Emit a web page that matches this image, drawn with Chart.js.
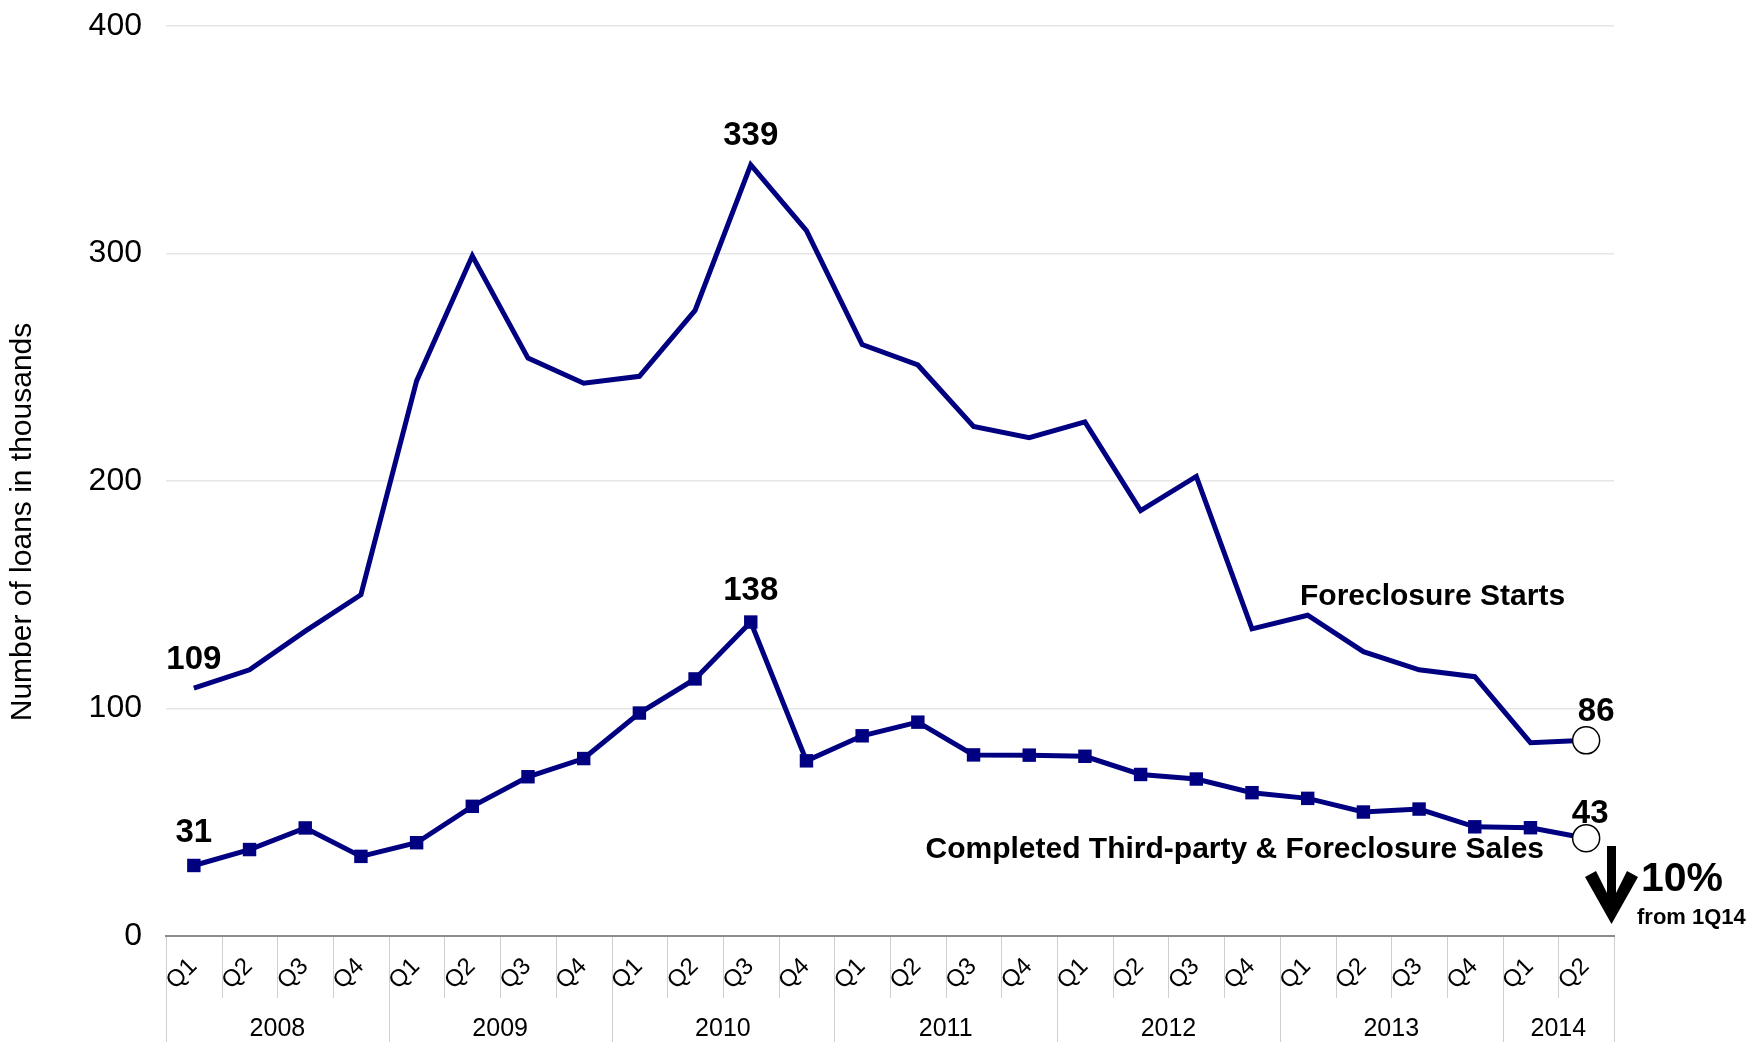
<!DOCTYPE html>
<html>
<head>
<meta charset="utf-8">
<script src="https://cdn.jsdelivr.net/npm/chart.js@4.4.1/dist/chart.umd.min.js"></script>
<style>
  html, body { margin: 0; padding: 0; background: #ffffff; }
  canvas { display: block; }
</style>
</head>
<body>
<canvas id="chart" width="1752" height="1042"></canvas>
<script>
// ---- data -------------------------------------------------------------
const years = ['2008', '2009', '2010', '2011', '2012', '2013', '2014'];
const quartersPerYear = [4, 4, 4, 4, 4, 4, 2];
const quarterNames = ['Q1', 'Q2', 'Q3', 'Q4'];

// Number of loans, thousands
const foreclosureStarts = [109, 117, 134, 150, 244, 299, 254, 243, 246, 275, 339, 310,
                           260, 251, 224, 219, 226, 187, 202, 135, 141, 125, 117, 114, 85, 86];
const completedSales    = [31, 38, 47.5, 35, 41, 57, 70, 78, 98, 113, 138, 77,
                           88, 94, 79.6, 79.5, 79, 71, 69, 63, 60.5, 54.5, 55.8, 48, 47.6, 43];

const yTickValues = [0, 100, 200, 300, 400];

// labelled points: [index, text]
const startsLabels = [[0, '109'], [10, '339'], [25, '86']];
const salesLabels  = [[0, '31'], [10, '138'], [25, '43']];

const seriesNames = ['Foreclosure Starts', 'Completed Third-party & Foreclosure Sales'];
const changeText = ['10%', 'from 1Q14'];
const yTitle = 'Number of loans in thousands';

// ---- derived ----------------------------------------------------------
const categories = [];
years.forEach((y, yi) => {
  for (let q = 0; q < quartersPerYear[yi]; q++) {
    categories.push(quarterNames[q] + ' ' + y);
  }
});
const lastIdx = categories.length - 1;

const FONT = '"Liberation Sans", Arial, Helvetica, sans-serif';
const NAVY = '#000080';
Chart.defaults.font.family = FONT;

// ---- custom drawing: category axis, labels, annotations ------------------
const decorations = {
  id: 'decorations',
  afterDraw(chart) {
    const ctx = chart.ctx;
    const area = chart.chartArea;
    const xs = chart.scales.x;
    const n = categories.length;
    const edge = i => i === 0 ? area.left : (i === n ? area.right
                  : (xs.getPixelForValue(i - 1) + xs.getPixelForValue(i)) / 2);

    ctx.save();
    // quarter dividers below the axis
    ctx.strokeStyle = '#cfcfcf';
    ctx.lineWidth = 1;
    const yearStarts = [0];
    quartersPerYear.forEach(q => yearStarts.push(yearStarts[yearStarts.length - 1] + q));
    for (let i = 0; i <= n; i++) {
      const x = Math.round(edge(i)) + 0.5;
      const isYear = yearStarts.includes(i);
      ctx.beginPath();
      ctx.moveTo(x, area.bottom + 1);
      ctx.lineTo(x, isYear ? chart.height : area.bottom + 62);
      ctx.stroke();
    }

    // quarter labels (rotated)
    ctx.fillStyle = '#000';
    ctx.font = '24px ' + FONT;
    ctx.textAlign = 'center';
    ctx.textBaseline = 'middle';
    for (let i = 0; i < n; i++) {
      const x = xs.getPixelForValue(i);
      ctx.save();
      ctx.translate(x - 12, area.bottom + 38);
      ctx.rotate(-Math.PI / 4);
      ctx.fillText(categories[i].split(' ')[0], 0, 0);
      ctx.restore();
    }

    // year labels
    ctx.font = '25px ' + FONT;
    years.forEach((y, yi) => {
      const cx = (edge(yearStarts[yi]) + edge(yearStarts[yi + 1])) / 2;
      ctx.fillText(y, cx, area.bottom + 93);
    });

    // y axis title
    ctx.save();
    ctx.translate(23, (area.top + area.bottom) / 2 + 41);
    ctx.rotate(-Math.PI / 2);
    ctx.font = '30px ' + FONT;
    ctx.fillText(yTitle, 0, 0);
    ctx.restore();

    // value labels
    ctx.font = 'bold 33px ' + FONT;
    const m0 = chart.getDatasetMeta(0).data;
    const m1 = chart.getDatasetMeta(1).data;
    const labelOffsets = { 0: [0, -28], 10: [0, -29], 25: [10, -28] };
    startsLabels.forEach(([i, t]) => {
      const o = labelOffsets[i];
      ctx.fillText(t, m0[i].x + o[0], m0[i].y + o[1]);
    });
    const salesOffsets = { 0: [0, -33], 10: [0, -31], 25: [4, -24] };
    salesLabels.forEach(([i, t]) => {
      const o = salesOffsets[i];
      ctx.fillText(t, m1[i].x + o[0], m1[i].y + o[1]);
    });

    // series names
    ctx.font = 'bold 30px ' + FONT;
    ctx.textAlign = 'left';
    ctx.fillText(seriesNames[0], 1300, 597);
    ctx.textAlign = 'right';
    ctx.fillText(seriesNames[1], 1544, 850);

    // down arrow
    ctx.fillStyle = '#000';
    ctx.beginPath();
    ctx.moveTo(1607, 846);
    ctx.lineTo(1616, 846);
    ctx.lineTo(1616, 893);
    ctx.lineTo(1627, 871);
    ctx.lineTo(1638, 877);
    ctx.lineTo(1611.5, 924);
    ctx.lineTo(1585, 877);
    ctx.lineTo(1596, 871);
    ctx.lineTo(1607, 893);
    ctx.closePath();
    ctx.fill();

    // change annotation
    ctx.textAlign = 'left';
    ctx.font = 'bold 41px ' + FONT;
    ctx.fillText(changeText[0], 1641, 880);
    ctx.font = 'bold 22px ' + FONT;
    ctx.fillText(changeText[1], 1637, 918);
    ctx.restore();
  }
};

// ---- chart ------------------------------------------------------------
const lastOnly = (v, other) => categories.map((_, i) => i === lastIdx ? v : other);

new Chart(document.getElementById('chart'), {
  type: 'line',
  data: {
    labels: categories,
    datasets: [
      {
        label: seriesNames[0],
        data: foreclosureStarts,
        borderColor: NAVY,
        borderWidth: 5,
        tension: 0,
        clip: false,
        pointStyle: 'circle',
        pointRadius: lastOnly(13.5, 0),
        pointBackgroundColor: '#ffffff',
        pointBorderColor: '#000000',
        pointBorderWidth: 1.5
      },
      {
        label: seriesNames[1],
        data: completedSales,
        borderColor: NAVY,
        borderWidth: 5,
        tension: 0,
        clip: false,
        pointStyle: lastOnly('circle', 'rect'),
        pointRadius: lastOnly(13.5, 9.5),
        pointBackgroundColor: lastOnly('#ffffff', NAVY),
        pointBorderColor: lastOnly('#000000', NAVY),
        pointBorderWidth: lastOnly(1.5, 0)
      }
    ]
  },
  options: {
    responsive: false,
    animation: false,
    events: [],
    layout: { padding: { left: 0, right: 138, top: 26, bottom: 0 } },
    plugins: {
      legend: { display: false },
      tooltip: { enabled: false },
      title: { display: false }
    },
    scales: {
      x: {
        type: 'category',
        offset: true,
        grid: { display: false },
        border: { display: true, color: '#8c8c8c', width: 2 },
        ticks: { display: false },
        afterFit(scale) { scale.height = 106; }
      },
      y: {
        min: 0,
        max: 400,
        afterBuildTicks(scale) { scale.ticks = yTickValues.map(v => ({ value: v })); },
        grid: { color: '#e6e6e6', lineWidth: 1.5, drawTicks: false },
        border: { display: false },
        ticks: {
          color: '#000',
          padding: 24,
          font: { size: 32, family: FONT }
        },
        afterFit(scale) {
          scale.width = 166;
          scale.paddingTop = 0;
          scale.paddingBottom = 0;
        }
      }
    }
  },
  plugins: [decorations]
});
</script>
</body>
</html>
